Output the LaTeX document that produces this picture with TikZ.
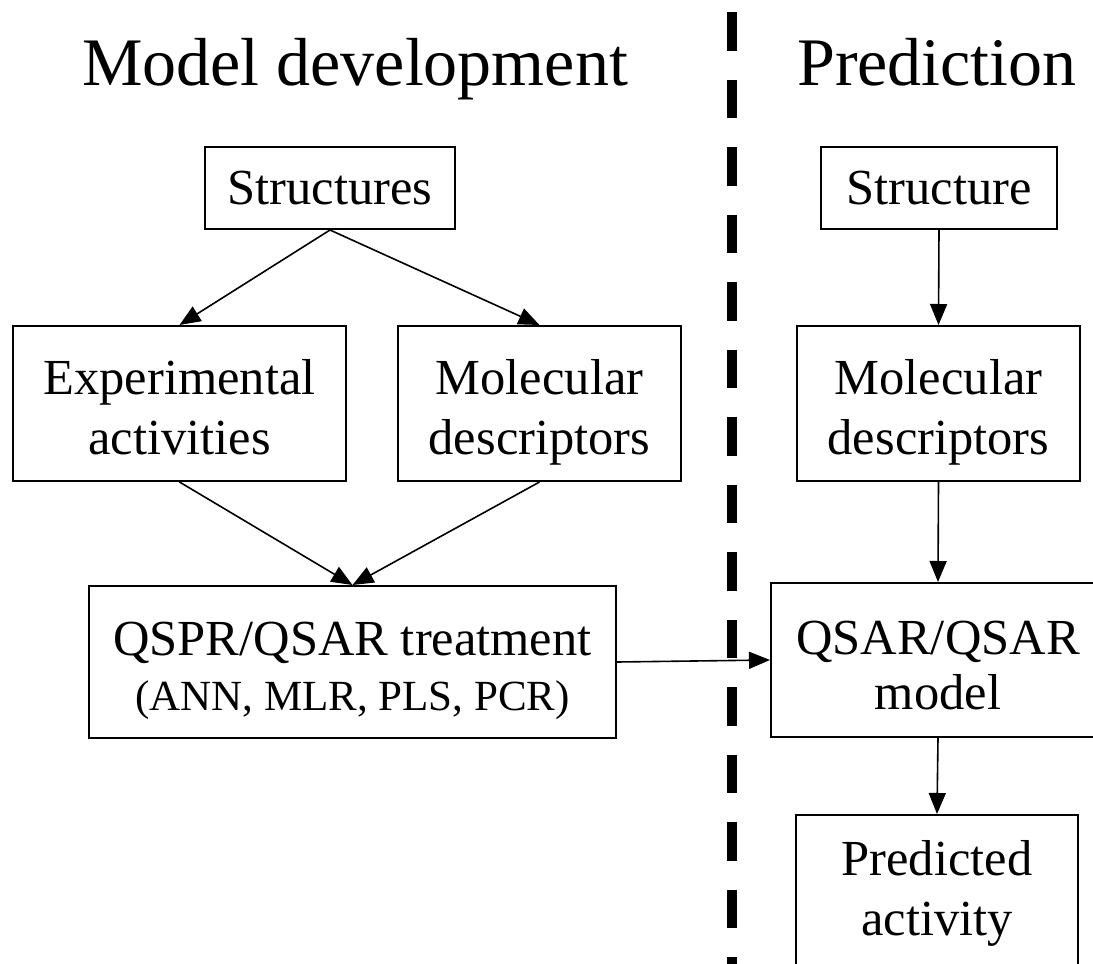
\documentclass[tikz,border=0pt]{standalone}
\usepackage{fontspec}
\setmainfont{Liberation Serif}
\usetikzlibrary{arrows.meta}
\newcommand{\mytop}[1]{\rule{0pt}{#1}}
\newcommand{\mybot}[1]{\rule[-#1]{0pt}{#1}}
\tikzset{
  box/.style={draw, line width=2pt, inner sep=0pt, align=center, font=\fontsize{50.5}{60}\selectfont},
  tightbox/.style={box, font=\fontsize{50.5}{55}\selectfont},
  conn/.style={line width=1.6pt, -{Triangle[length=21pt,width=17pt]}},
  title/.style={anchor=base, inner sep=0pt, font=\fontsize{68}{78}\selectfont},
  divider/.style={line width=10pt, dash pattern=on 38.5pt off 29pt}
}
\begin{document}
\begin{tikzpicture}[x=1pt,y=-1pt]
\useasboundingbox (0,0) rectangle (1093,964);
\clip (0,0) rectangle (1093,964);
\fill[white] (0,0) rectangle (1093,964);
\node[title] (t1) at (355,85) {Model development};
\node[title] (t2) at (937,85) {Prediction};
\draw[divider] (732,12) -- (732,980);
% left column
\node[box, minimum width=250pt, minimum height=82pt] (s) at (330,188) {Structures};
\node[box, minimum width=333pt, minimum height=155pt] (e) at (179.5,403.5) {\mytop{54pt}Experimental\\activities\mybot{11.5pt}};
\node[box, minimum width=283pt, minimum height=155pt] (m) at (539.5,403.5) {\mytop{54pt}Molecular\\descriptors\mybot{11.5pt}};
\node[tightbox, minimum width=527pt, minimum height=152pt] (q) at (352.5,662) {\mytop{52pt}QSPR/QSAR treatment\\{\fontsize{43}{55}\selectfont (ANN, MLR, PLS, PCR)}\mybot{8pt}};
% right column
\node[box, minimum width=236pt, minimum height=82pt] (sr) at (939,188) {Structure};
\node[box, minimum width=283pt, minimum height=155pt] (mr) at (938.5,403.5) {\mytop{54pt}Molecular\\descriptors\mybot{11.5pt}};
\node[tightbox, minimum width=334pt, minimum height=154pt] (qm) at (938,660) {\mytop{52pt}QSAR/QSAR\\model\mybot{8pt}};
\node[box, minimum width=282pt, minimum height=150pt] (p) at (937,890) {\mytop{42pt}Predicted\\activity\mybot{11.5pt}};
% connectors
\draw[conn] (s.south) -- (e.north);
\draw[conn] (s.south) -- (m.north);
\draw[conn] (e.south) -- (q.north);
\draw[conn] (m.south) -- (q.north);
\draw[conn] (q.east) -- (qm.west);
\draw[conn] (sr.south) -- (mr.north);
\draw[conn] (mr.south) -- (qm.north);
\draw[conn] (qm.south) -- (p.north);
\end{tikzpicture}
\end{document}
